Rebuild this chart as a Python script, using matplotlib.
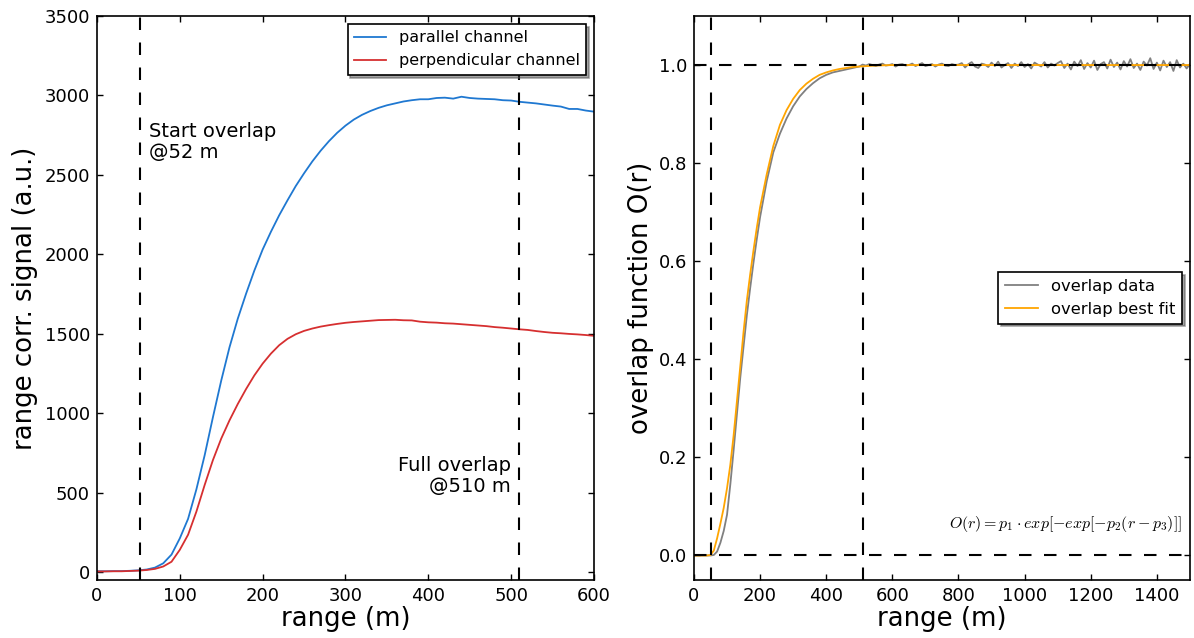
import numpy as np
import matplotlib
matplotlib.use("Agg")
import matplotlib.pyplot as plt

# ---- range-corrected signals (left panel) ----
range_sig = list(range(0, 601, 10))
parallel = [5, 5, 6, 6, 8, 11, 16, 28, 55, 110,
            212, 335, 520, 735, 975, 1205, 1415, 1595, 1752, 1898,
            2030, 2142, 2246, 2340, 2430, 2510, 2585, 2652, 2712, 2765,
            2810, 2848, 2878, 2902, 2922, 2938, 2950, 2962, 2970, 2976,
            2976, 2984, 2986, 2980, 2992, 2984, 2980, 2978, 2976, 2970,
            2968, 2960, 2955, 2950, 2943, 2936, 2930, 2915, 2915, 2905,
            2898]
perpendicular = [4, 4, 5, 5, 7, 9, 13, 20, 35, 65,
                 140, 235, 380, 548, 705, 840, 955, 1058, 1152, 1238,
                 1312, 1375, 1428, 1468, 1497, 1518, 1533, 1545, 1554, 1562,
                 1569, 1574, 1578, 1582, 1586, 1587, 1588, 1585, 1584, 1576,
                 1572, 1570, 1566, 1564, 1560, 1556, 1552, 1548, 1542, 1538,
                 1533, 1528, 1524, 1517, 1511, 1506, 1503, 1499, 1496, 1492,
                 1487]

# ---- overlap function (right panel) ----
range_ovl_rise = [0, 20, 40, 50, 60, 70, 80, 90, 100, 110, 120, 130, 140, 150,
                  160, 170, 180, 190, 200, 220, 240, 260, 280, 300, 320, 340,
                  360, 380, 400, 420, 440, 460, 480, 500]
overlap_rise = [0.0, 0.0, 0.0, 0.0, 0.001, 0.008, 0.026, 0.050, 0.083, 0.145,
                0.215, 0.288, 0.362, 0.425, 0.490, 0.545, 0.597, 0.645, 0.690,
                0.763, 0.822, 0.860, 0.891, 0.916, 0.936, 0.951, 0.963, 0.973,
                0.980, 0.985, 0.988, 0.991, 0.994, 0.997]
range_ovl_flat = list(range(510, 1501, 10))
overlap_flat = [1.001, 0.999, 1.002, 1.000, 0.998, 1.001, 1.003, 0.999, 1.000, 1.002,
                0.997, 1.001, 1.002, 0.999, 1.000, 1.003, 0.998, 1.001, 1.004, 0.998,
                1.000, 1.002, 0.997, 1.001, 1.003, 0.999, 0.998, 1.002, 1.000, 1.001,
                1.004, 0.995, 1.002, 1.006, 0.997, 0.994, 1.003, 1.001, 0.996, 1.005,
                0.998, 1.007, 0.995, 1.000, 1.004, 0.994, 1.003, 0.998, 1.006, 0.996,
                1.002, 0.993, 1.005, 1.001, 0.997, 1.006, 0.995, 1.003, 0.999, 1.004,
                1.008, 0.994, 1.003, 0.991, 1.007, 0.998, 1.010, 0.992, 1.004, 0.995,
                1.009, 0.990, 1.002, 1.006, 0.993, 1.011, 0.996, 1.005, 0.991, 1.008,
                0.997, 1.012, 0.994, 1.003, 0.990, 1.007, 0.999, 1.014, 0.992, 1.005,
                0.989, 1.009, 0.996, 1.006, 0.988, 1.010, 0.995, 1.003, 0.993, 1.002]
range_ovl = range_ovl_rise + range_ovl_flat
overlap_data = overlap_rise + overlap_flat

range_fit = [0, 40, 50, 60, 70, 80, 90, 100, 110, 120, 130, 140, 150, 160, 170,
             180, 190, 200, 220, 240, 260, 280, 300, 320, 340, 360, 380, 400,
             420, 440, 460, 480, 500, 550, 600, 700, 1500]
overlap_fit = [0.0, 0.0, 0.001, 0.010, 0.035, 0.065, 0.097, 0.137, 0.185, 0.245,
               0.315, 0.385, 0.456, 0.520, 0.573, 0.622, 0.668, 0.710, 0.777,
               0.835, 0.878, 0.908, 0.931, 0.949, 0.962, 0.972, 0.980, 0.985,
               0.989, 0.992, 0.994, 0.996, 0.997, 0.999, 1.0, 1.0, 1.0]

start_overlap = 52
full_overlap = 510

plt.rcParams.update({
    "font.family": "DejaVu Sans",
    "xtick.direction": "in",
    "ytick.direction": "in",
    "xtick.top": True,
    "ytick.right": True,
    "xtick.major.size": 4.5,
    "ytick.major.size": 4.5,
    "xtick.major.width": 1.0,
    "ytick.major.width": 1.0,
    "xtick.major.pad": 5,
    "ytick.major.pad": 5,
    "xtick.labelsize": 13,
    "ytick.labelsize": 13,
    "axes.linewidth": 1.2,
    "mathtext.fontset": "cm",
})

fig = plt.figure(figsize=(11.94, 6.38), dpi=100)
ax1 = fig.add_axes([0.0812, 0.0909, 0.4163, 0.884])
ax2 = fig.add_axes([0.5812, 0.0909, 0.4154, 0.884])

dash = (6, 6)

# left: signals
ax1.plot(range_sig, parallel, color="#1f78d1", lw=1.3, label="parallel channel")
ax1.plot(range_sig, perpendicular, color="#d62f30", lw=1.3, label="perpendicular channel")
for x in (start_overlap, full_overlap):
    ax1.axvline(x, color="black", ls="--", lw=1.5, dashes=dash)
ax1.text(63, 2830, "Start overlap\n@%d m" % start_overlap, fontsize=14,
         ha="left", va="top", linespacing=1.1)
ax1.text(500, 480, "Full overlap\n@%d m" % full_overlap, fontsize=14,
         ha="right", va="bottom", linespacing=1.1, multialignment="right")
ax1.set_xlim(0, 600)
ax1.set_ylim(-50, 3500)
ax1.set_xticks(range(0, 601, 100))
ax1.set_yticks(range(0, 3501, 500))
ax1.set_xlabel("range (m)", fontsize=18.7, labelpad=1)
ax1.set_ylabel("range corr. signal (a.u.)", fontsize=18.7, labelpad=5)
leg1 = ax1.legend(loc="upper right", fontsize=11.5, fancybox=False, shadow=True,
                  framealpha=1, edgecolor="black", borderaxespad=0.5)
leg1.get_frame().set_linewidth(1.2)

# right: overlap function
ax2.plot(range_ovl, overlap_data, color="gray", lw=1.3, label="overlap data")
ax2.plot(range_fit, overlap_fit, color="orange", lw=1.3, label="overlap best fit")
for x in (start_overlap, full_overlap):
    ax2.axvline(x, color="black", ls="--", lw=1.5, dashes=dash)
for y in (0.0, 1.0):
    ax2.axhline(y, color="black", ls="--", lw=1.5, dashes=dash)
ax2.text(0.985, 0.082, r"$O(r)=p_1\cdot exp[-exp[-p_2(r-p_3)]]$", fontsize=11.5,
         ha="right", va="bottom", transform=ax2.transAxes)
ax2.set_xlim(0, 1500)
ax2.set_ylim(-0.05, 1.1)
ax2.set_xticks(range(0, 1501, 200))
ax2.set_yticks([0.0, 0.2, 0.4, 0.6, 0.8, 1.0])
ax2.set_xlabel("range (m)", fontsize=18.7, labelpad=1)
ax2.set_ylabel("overlap function O(r)", fontsize=18.7, labelpad=3)
leg2 = ax2.legend(loc="center right", fontsize=11.8, fancybox=False, shadow=True,
                  framealpha=1, edgecolor="black", borderaxespad=0.5)
leg2.get_frame().set_linewidth(1.2)

fig.savefig("out.png", dpi=100)
